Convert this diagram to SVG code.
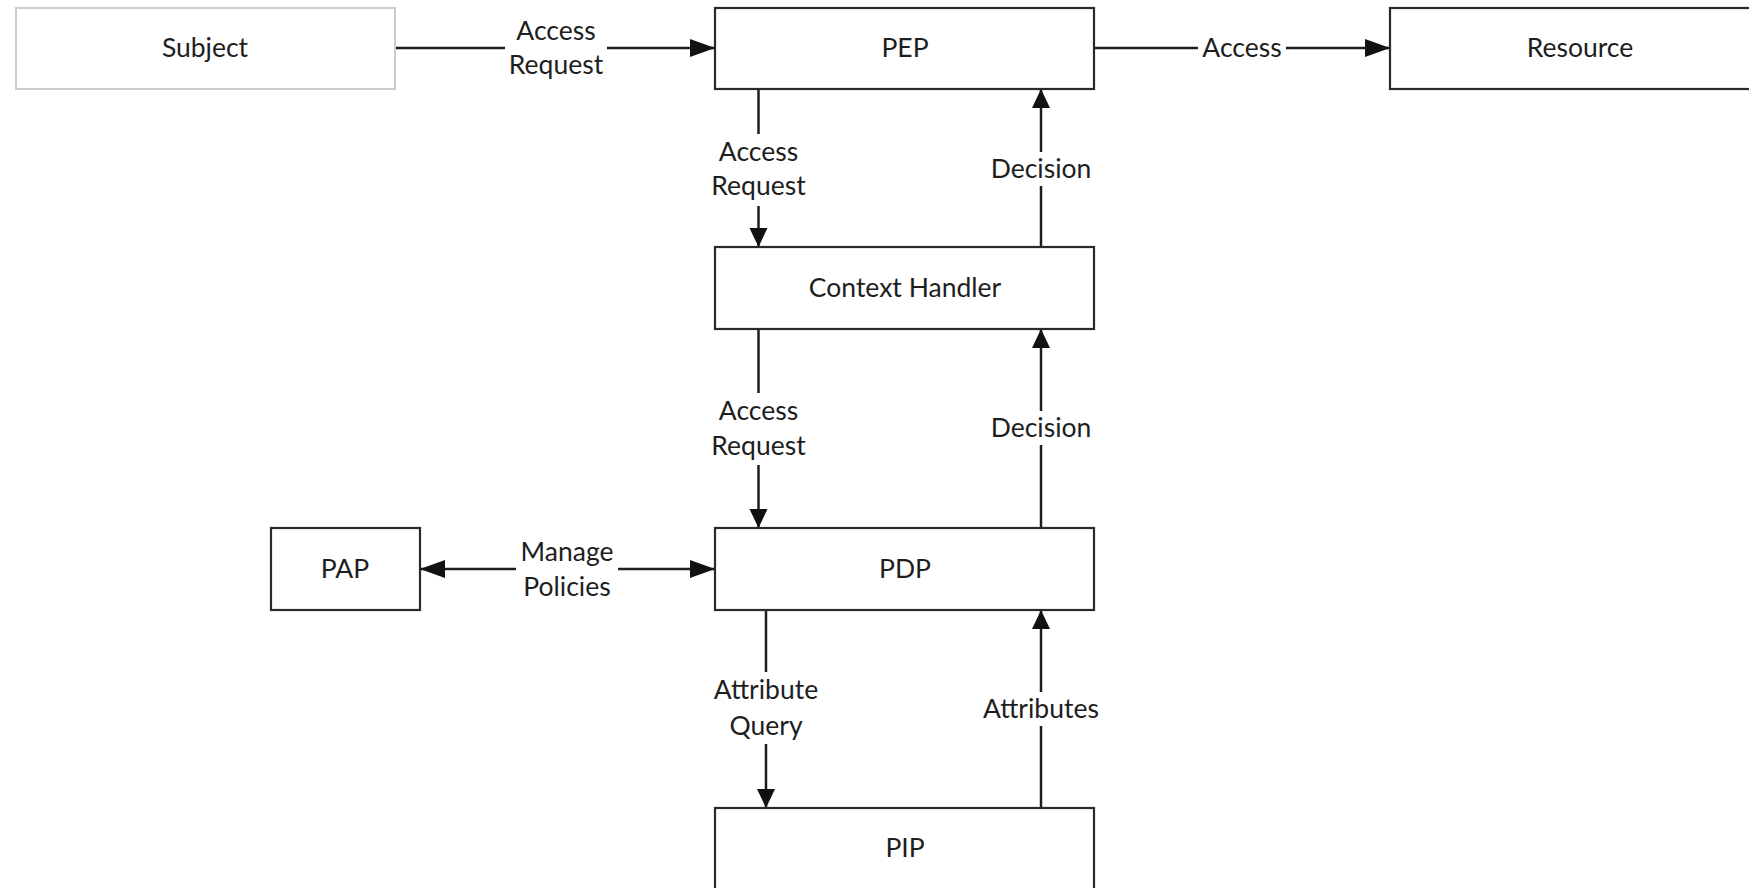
<svg xmlns="http://www.w3.org/2000/svg" width="1749" height="888" viewBox="0 0 1749 888">
<defs>
<style>
.box{fill:#fff;stroke:#2a2a2a;stroke-width:2.2}
.light{fill:#fff;stroke:#ccc;stroke-width:2}
.t{font-family:Lato,"Open Sans","Liberation Sans",sans-serif;font-size:26.5px;fill:#1e1e1e;text-anchor:middle}
.edge{fill:none;stroke:#1e1e1e;stroke-width:2.5}
.bg{fill:#fff}
</style>
<marker id="ah" markerUnits="userSpaceOnUse" markerWidth="26" markerHeight="20" refX="25" refY="9" orient="auto-start-reverse"><path d="M0,0 L25,9 L0,18 z" fill="#111"/></marker>
<marker id="av" markerUnits="userSpaceOnUse" markerWidth="20" markerHeight="19" refX="19" refY="9" orient="auto"><path d="M0,0 L19,9 L0,18 z" fill="#111"/></marker>
</defs>
<rect width="1749" height="888" fill="#fff"/>
<g id="connectors">
<path class="edge" d="M395,48 H715" marker-end="url(#ah)"/>
<path class="edge" d="M1094,48 H1390" marker-end="url(#ah)"/>
<path class="edge" d="M758.5,89 V247" marker-end="url(#av)"/>
<path class="edge" d="M1041,247 V89" marker-end="url(#av)"/>
<path class="edge" d="M758.5,329 V528" marker-end="url(#av)"/>
<path class="edge" d="M1041,528 V329" marker-end="url(#av)"/>
<path class="edge" d="M420,569 H715" marker-start="url(#ah)" marker-end="url(#ah)"/>
<path class="edge" d="M766,610 V808" marker-end="url(#av)"/>
<path class="edge" d="M1041,808 V610" marker-end="url(#av)"/>
<g id="labels">
<rect class="bg" x="505" y="14" width="102" height="68"/>
<text class="t" x="556" y="40">Access</text>
<text class="t" x="556" y="74">Request</text>
<rect class="bg" x="1198" y="34" width="88" height="28"/>
<text class="t" x="1242" y="57">Access</text>
<rect class="bg" x="706" y="134" width="104" height="72"/>
<text class="t" x="758.5" y="161">Access</text>
<text class="t" x="758.5" y="195">Request</text>
<rect class="bg" x="988" y="152" width="106" height="34"/>
<text class="t" x="1041" y="178">Decision</text>
<rect class="bg" x="706" y="393" width="104" height="72"/>
<text class="t" x="758.5" y="420">Access</text>
<text class="t" x="758.5" y="455">Request</text>
<rect class="bg" x="988" y="411" width="106" height="34"/>
<text class="t" x="1041" y="437">Decision</text>
<rect class="bg" x="516" y="534" width="102" height="72"/>
<text class="t" x="567" y="561">Manage</text>
<text class="t" x="567" y="596">Policies</text>
<rect class="bg" x="709" y="672" width="114" height="72"/>
<text class="t" x="766" y="699">Attribute</text>
<text class="t" x="766" y="735">Query</text>
<rect class="bg" x="979" y="692" width="124" height="34"/>
<text class="t" x="1041" y="718">Attributes</text>
</g>
</g>
<g id="subject"><rect class="light" x="16" y="8" width="379" height="81"/><text class="t" x="205" y="57">Subject</text></g>
<g id="pep"><rect class="box" x="715" y="8" width="379" height="81"/><text class="t" x="905" y="57">PEP</text></g>
<g id="resource"><rect class="box" x="1390" y="8" width="380" height="81"/><text class="t" x="1580" y="57">Resource</text></g>
<g id="context-handler"><rect class="box" x="715" y="247" width="379" height="82"/><text class="t" x="905" y="297">Context Handler</text></g>
<g id="pap"><rect class="box" x="271" y="528" width="149" height="82"/><text class="t" x="345" y="578">PAP</text></g>
<g id="pdp"><rect class="box" x="715" y="528" width="379" height="82"/><text class="t" x="905" y="578">PDP</text></g>
<g id="pip"><rect class="box" x="715" y="808" width="379" height="90"/><text class="t" x="905" y="857">PIP</text></g>
</svg>
